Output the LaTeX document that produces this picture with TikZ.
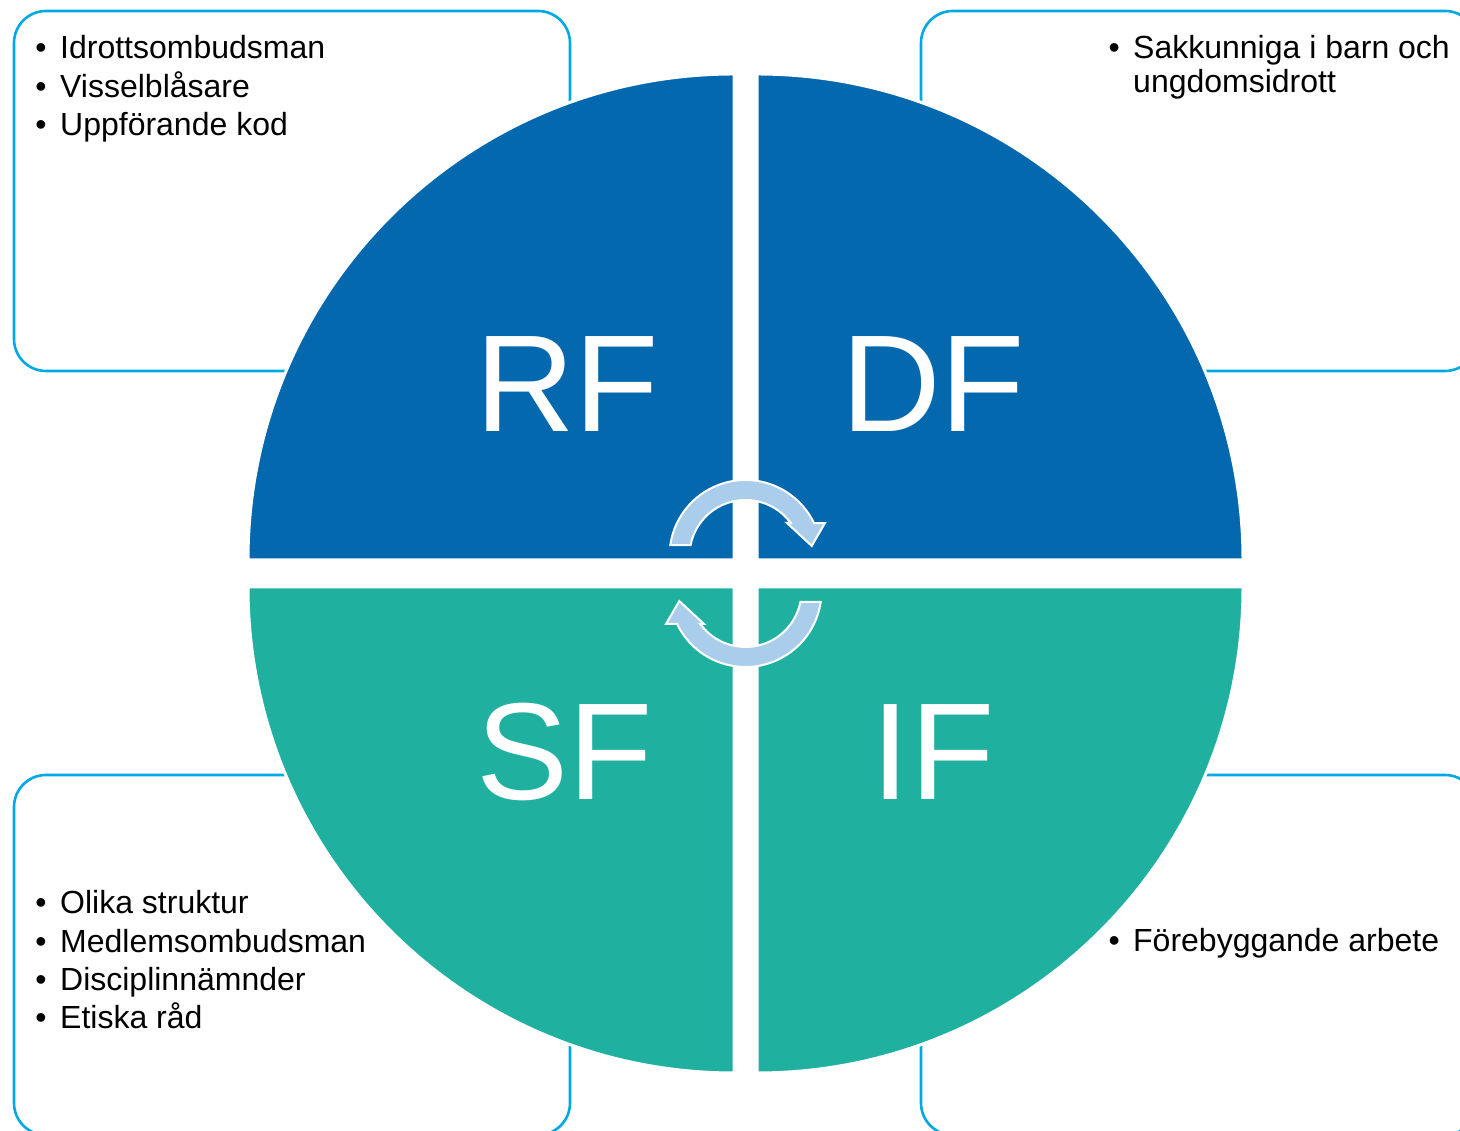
\documentclass[tikz,border=0pt]{standalone}
\usepackage{fontspec}
\setmainfont{Liberation Sans}
\definecolor{qblue}{HTML}{0468AE}
\definecolor{qteal}{HTML}{20B0A0}
\definecolor{boxline}{HTML}{00A8E4}
\definecolor{arrowfill}{HTML}{A9CDEB}
\newcommand\itembul{\makebox[0pt][r]{•\hspace{13.5pt}}}
\newcommand\cycarrow{\path[cyc] (171.7:76) arc[start angle=171.7, end angle=25.7, radius=76] -- (22.5:86) -- (8.6:67) -- (38.5:53) -- (36.1:56) arc[start angle=36.1, end angle=168.7, radius=56] -- cycle;}
\begin{document}
\begin{tikzpicture}[x=1pt,y=1pt,
  infobox/.style={draw=boxline, line width=2.6pt, rounded corners=32pt},
  quad/.style={draw=white, line width=3pt},
  bigtext/.style={text=white, font=\fontsize{138}{150}\selectfont, inner sep=0pt, anchor=base},
  item/.style={anchor=base west, inner sep=0pt, font=\fontsize{32}{38}\selectfont},
  cyc/.style={fill=arrowfill, draw=white, line width=2pt, line join=miter}
]
\useasboundingbox (0,0) rectangle (1460,1131);
\clip (0,0) rectangle (1460,1131);
% boxes
\draw[infobox] (14,760) rectangle (570,1120);
\draw[infobox] (921,760) rectangle (1477,1120);
\draw[infobox] (14,-4) rectangle (570,356);
\draw[infobox] (921,-4) rectangle (1477,356);
% quadrants
\path[quad, fill=qblue] (734,571) -- (248,571) arc[start angle=180, end angle=90, radius=486] -- cycle;
\path[quad, fill=qblue] (757,571) -- (757,1057) arc[start angle=90, end angle=0, radius=486] -- cycle;
\path[quad, fill=qteal] (734,544) -- (248,544) arc[start angle=180, end angle=270, radius=486] -- cycle;
\path[quad, fill=qteal] (757,544) -- (1243,544) arc[start angle=0, end angle=-90, radius=486] -- cycle;
% big labels
\node[bigtext] (rf) at (567,699) {RF};
\node[bigtext] (df) at (933,699) {DF};
\node[bigtext] (sf) at (565,331) {SF};
\node[bigtext] (if) at (933,331) {IF};
% cycle arrows
\begin{scope}[shift={(745.5,557.5)}]
  \begin{scope}[shift={(0,17.5)}]
    \cycarrow
  \end{scope}
  \begin{scope}[rotate=180]
    \begin{scope}[shift={(0,17.5)}]
      \cycarrow
    \end{scope}
  \end{scope}
\end{scope}
% texts
\node[item] (tl1) at (60,1072) {\itembul Idrottsombudsman};
\node[item] (tl2) at (60,1033) {\itembul Visselblåsare};
\node[item] (tl3) at (60,995) {\itembul Uppförande kod};
\node[item] (tr1) at (1133,1072) {\itembul Sakkunniga i barn och};
\node[item] (tr2) at (1133,1038) {ungdomsidrott};
\node[item] (bl1) at (60,217) {\itembul Olika struktur};
\node[item] (bl2) at (60,178) {\itembul Medlemsombudsman};
\node[item] (bl3) at (60,140) {\itembul Disciplinnämnder};
\node[item] (bl4) at (60,102) {\itembul Etiska råd};
\node[item] (br1) at (1133,179) {\itembul Förebyggande arbete};
\end{tikzpicture}
\end{document}
